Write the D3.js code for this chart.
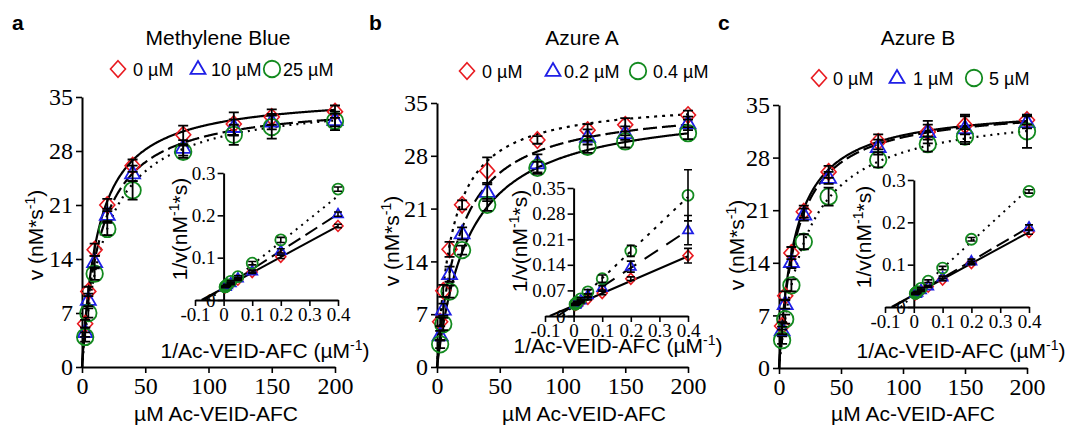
<!DOCTYPE html>
<html>
<head>
<meta charset="utf-8">
<script src="https://cdn.jsdelivr.net/npm/d3@7"></script>
</head>
<body style="margin:0;background:#fff">
<svg id="fig" width="1069" height="428"></svg>
<script>
// substrate concentrations (uM) and their reciprocals for the Lineweaver-Burk insets
var conc = [2.5, 5, 10, 20, 40, 80, 120, 150, 200];
var invConc = [0.4, 0.2, 0.1, 0.05, 0.025, 0.0125, 0.0083, 0.0067, 0.005];

var xTicks = [0, 50, 100, 150, 200];
var yTicks = [0, 7, 14, 21, 28, 35];
var insetXTicks = [-0.1, 0, 0.1, 0.2, 0.3, 0.4];
var insetYTicksA = [0, 0.1, 0.2, 0.3];
var insetYTicksB = [0, 0.07, 0.14, 0.21, 0.28, 0.35];
var insetYTicksC = [0, 0.1, 0.2, 0.3];

var titles = ["Methylene Blue", "Azure A", "Azure B"];
var letters = ["a", "b", "c"];
var legendA = ["0 µM", "10 µM", "25 µM"];
var legendB = ["0 µM", "0.2 µM", "0.4 µM"];
var legendC = ["0 µM", "1 µM", "5 µM"];

// v (nM*s-1)
var vA0 = [5.6, 9.8, 15.2, 21.0, 26.1, 30.1, 31.5, 32.4, 33.1];
var vA1 = [4.5, 8.7, 13.6, 19.7, 25.1, 28.4, 31.1, 31.8, 32.0];
var vA2 = [3.9, 7.0, 12.1, 17.9, 22.9, 27.9, 30.1, 31.1, 31.9];
var eA0 = [0.5, 0.6, 0.8, 0.8, 0.8, 1.2, 1.5, 1.0, 0.8];
var eA1 = [0.6, 0.8, 0.8, 0.8, 1.0, 1.0, 1.0, 1.0, 0.8];
var eA2 = [0.6, 0.6, 0.8, 0.8, 1.2, 0.8, 1.3, 1.5, 1.2];

var vB0 = [6.0, 10.1, 15.6, 21.5, 26.0, 30.1, 31.4, 32.1, 33.4];
var vB1 = [4.2, 7.6, 12.3, 17.7, 23.2, 27.0, 30.5, 31.0, 32.3];
var vB2 = [3.0, 5.7, 10.0, 15.5, 21.5, 26.4, 29.2, 29.9, 31.0];
var eB0 = [0.6, 0.8, 1.0, 0.6, 1.8, 0.5, 0.8, 0.9, 0.6];
var eB1 = [0.6, 0.8, 1.0, 0.8, 1.2, 1.2, 1.0, 0.9, 0.9];
var eB2 = [0.5, 0.8, 0.8, 0.6, 0.8, 0.8, 0.8, 0.8, 0.8];

var vC0 = [5.6, 9.6, 15.3, 20.8, 26.1, 30.1, 31.4, 32.3, 33.0];
var vC1 = [5.0, 8.5, 14.1, 20.4, 25.3, 29.4, 31.4, 31.9, 32.7];
var vC2 = [3.7, 6.5, 11.0, 16.8, 22.8, 27.7, 29.8, 30.8, 31.5];
var eC0 = [0.5, 0.6, 0.8, 0.8, 0.8, 1.0, 1.5, 1.2, 0.6];
var eC1 = [0.5, 0.6, 0.8, 0.8, 0.8, 1.0, 1.0, 1.8, 0.8];
var eC2 = [0.5, 0.6, 0.8, 1.0, 1.2, 1.0, 1.0, 1.0, 2.2];

// 1/v (nM-1*s)
var iA0 = [0.175, 0.102, 0.066, 0.048, 0.038, 0.033, 0.032, 0.031, 0.030];
var iA1 = [0.203, 0.116, 0.068, 0.051, 0.040, 0.035, 0.032, 0.031, 0.031];
var iA2 = [0.262, 0.142, 0.087, 0.055, 0.044, 0.036, 0.033, 0.032, 0.031];
var ieA0 = [0.004, 0.004, 0.003, 0.002, 0.002, 0.001, 0.001, 0.001, 0.001];
var ieA1 = [0.005, 0.005, 0.003, 0.002, 0.002, 0.001, 0.001, 0.001, 0.001];
var ieA2 = [0.005, 0.006, 0.004, 0.003, 0.002, 0.001, 0.001, 0.001, 0.001];

var iB0 = [0.165, 0.102, 0.063, 0.047, 0.038, 0.033, 0.032, 0.031, 0.030];
var iB1 = [0.235, 0.135, 0.077, 0.057, 0.043, 0.037, 0.033, 0.032, 0.031];
var iB2 = [0.330, 0.178, 0.102, 0.066, 0.047, 0.038, 0.034, 0.033, 0.032];
var ieB0 = [0.020, 0.005, 0.005, 0.003, 0.002, 0.001, 0.001, 0.001, 0.001];
var ieB1 = [0.040, 0.015, 0.006, 0.004, 0.002, 0.001, 0.001, 0.001, 0.001];
var ieB2 = [0.070, 0.015, 0.010, 0.006, 0.003, 0.002, 0.001, 0.001, 0.001];

var iC0 = [0.177, 0.104, 0.065, 0.048, 0.038, 0.033, 0.032, 0.031, 0.030];
var iC1 = [0.188, 0.108, 0.070, 0.049, 0.040, 0.034, 0.032, 0.031, 0.031];
var iC2 = [0.273, 0.160, 0.092, 0.061, 0.044, 0.036, 0.034, 0.033, 0.032];
var ieC0 = [0.005, 0.004, 0.003, 0.002, 0.001, 0.001, 0.001, 0.001, 0.001];
var ieC1 = [0.006, 0.005, 0.003, 0.002, 0.001, 0.001, 0.001, 0.001, 0.001];
var ieC2 = [0.004, 0.004, 0.004, 0.003, 0.002, 0.001, 0.001, 0.001, 0.001];

// Michaelis-Menten fit parameters per series
var vmaxA = [35.5, 34.5, 35], kmA = [13, 15, 19];
var vmaxB = [35.5, 35, 35],   kmB = [12, 18, 26];
var vmaxC = [35, 35, 35],     kmC = [13, 14, 22];

var colors = ["#e8191f", "#1f1fe6", "#138a1f"];
var shapes = ["diamond", "triangle", "circle"];
var SANS = "Liberation Sans";
var SERIF = "Liberation Serif";

var panels = [
  { letter: letters[0], title: titles[0], legend: legendA,
    v: [vA0, vA1, vA2], e: [eA0, eA1, eA2], iv: [iA0, iA1, iA2], ie: [ieA0, ieA1, ieA2],
    vmax: vmaxA, km: kmA, iyTicks: insetYTicksA, iyMax: 0.3,
    xr: [82, 335], yr: [367, 97], ixr: [195, 338], iyr: [300, 173],
    dash: ["none", "14,5", "2,5"], idash: ["none", "14,6", "2,5"],
    lx: 12, tx: 218, legY: 76, legM: [118, 198, 272], legT: [133, 211, 283],
    xlx: 216, ylx: 43, ylc: 235, ixlx: 265, ixly: 358, iylx: 187, iylc: 229 },
  { letter: letters[1], title: titles[1], legend: legendB,
    v: [vB0, vB1, vB2], e: [eB0, eB1, eB2], iv: [iB0, iB1, iB2], ie: [ieB0, ieB1, ieB2],
    vmax: vmaxB, km: kmB, iyTicks: insetYTicksB, iyMax: 0.35,
    xr: [437, 688], yr: [367, 103], ixr: [545, 688], iyr: [316, 188],
    dash: ["3,5", "14,5", "none"], idash: ["none", "16,10", "3,6"],
    lx: 369, tx: 582, legY: 78, legM: [467, 553, 638], legT: [482, 564, 653],
    xlx: 584, ylx: 399, ylc: 241, ixlx: 618, ixly: 353, iylx: 527, iylc: 241 },
  { letter: letters[2], title: titles[2], legend: legendC,
    v: [vC0, vC1, vC2], e: [eC0, eC1, eC2], iv: [iC0, iC1, iC2], ie: [ieC0, ieC1, ieC2],
    vmax: vmaxC, km: kmC, iyTicks: insetYTicksC, iyMax: 0.3,
    xr: [779, 1027], yr: [368, 105], ixr: [885, 1029], iyr: [307, 180],
    dash: ["none", "14,5", "2,5"], idash: ["none", "14,6", "2,5"],
    lx: 718, tx: 918, legY: 85, legM: [819, 897, 974], legT: [833, 913, 989],
    xlx: 913, ylx: 744, ylc: 245, ixlx: 961, ixly: 358, iylx: 871, iylc: 237 }
];

var svg = d3.select("#fig");

function label(g, x, y, size, str) {
  return g.append("text").attr("x", x).attr("y", y)
    .attr("font-family", SANS).attr("font-size", size).attr("fill", "#000").text(str);
}

function marker(g, shape, x, y, size, color) {
  if (shape == "circle") {
    g.append("circle").attr("cx", x).attr("cy", y).attr("r", size * 0.55)
      .attr("fill", "none").attr("stroke", color).attr("stroke-width", 1.8);
  } else if (shape == "diamond") {
    var w = size * 0.5, h = size * 0.55;
    g.append("path")
      .attr("d", "M" + x + "," + (y - h) + "L" + (x + w) + "," + y + "L" + x + "," + (y + h) + "L" + (x - w) + "," + y + "Z")
      .attr("fill", "none").attr("stroke", color).attr("stroke-width", 1.6);
  } else {
    var s = size, hh = s * 0.866;
    g.append("path")
      .attr("d", "M" + x + "," + (y - hh * 0.62) + "L" + (x + s / 2) + "," + (y + hh * 0.38) + "L" + (x - s / 2) + "," + (y + hh * 0.38) + "Z")
      .attr("fill", "none").attr("stroke", color).attr("stroke-width", 1.8);
  }
}

function supText(t, parts) {
  t.append("tspan").text(parts[0]);
  t.append("tspan").attr("baseline-shift", "super").attr("font-size", 14).text(parts[1]);
  t.append("tspan").text(parts[2]);
}

function rotLabel(g, x, cy, parts) {
  var t = g.append("text").attr("transform", "translate(" + x + "," + cy + ") rotate(-90)")
    .attr("font-family", SANS).attr("font-size", 21).attr("text-anchor", "middle");
  supText(t, parts);
  return t;
}

function styleAxis(g, fs) {
  g.attr("font-family", SERIF).attr("font-size", fs);
  g.select(".domain").attr("stroke", "#000").attr("stroke-width", 2);
  g.selectAll(".tick line").attr("stroke", "#000").attr("stroke-width", 1.6);
  g.selectAll(".tick text").attr("fill", "#000");
}

function fmt(d) { return String(+d.toFixed(2)); }

panels.forEach(function(p) {
  var g = svg.append("g");

  // headings
  label(g, p.lx, 30, 21, p.letter).attr("font-weight", "bold");
  label(g, p.tx, 45, 21, p.title).attr("text-anchor", "middle");
  for (var k = 0; k < 3; k++) {
    marker(g, shapes[k], p.legM[k], p.legY - 7, 15, colors[k]);
    label(g, p.legT[k], p.legY, 18, p.legend[k]);
  }

  // main Michaelis-Menten plot
  var x = d3.scaleLinear().domain([0, 200]).range(p.xr);
  var y = d3.scaleLinear().domain([0, 35]).range(p.yr);

  var gx = g.append("g").attr("transform", "translate(0," + p.yr[0] + ")")
    .call(d3.axisBottom(x).tickValues(xTicks).tickSize(6).tickSizeOuter(0).tickPadding(4).tickFormat(fmt));
  styleAxis(gx, 24);
  var gy = g.append("g").attr("transform", "translate(" + p.xr[0] + ",0)")
    .call(d3.axisLeft(y).tickValues(yTicks).tickSize(6).tickSizeOuter(0).tickPadding(3).tickFormat(fmt));
  styleAxis(gy, 24);

  label(g, p.xlx, 421, 21, "µM Ac-VEID-AFC").attr("text-anchor", "middle");
  rotLabel(g, p.ylx, p.ylc, ["v (nM*s", "-1", ")"]);

  var sGrid = d3.range(0, 200.5, 0.5);
  var curve = d3.line().x(function(d) { return x(d[0]); }).y(function(d) { return y(d[1]); });
  for (var k = 0; k < 3; k++) {
    var vm = p.vmax[k], km = p.km[k];
    g.append("path")
      .datum(sGrid.map(function(s) { return [s, vm * s / (km + s)]; }))
      .attr("d", curve).attr("fill", "none").attr("stroke", "#000")
      .attr("stroke-width", 2.2).attr("stroke-dasharray", p.dash[k]);
  }
  for (var k = 0; k < 3; k++) {
    conc.forEach(function(c, i) { marker(g, shapes[k], x(c), y(p.v[k][i]), 15, colors[k]); });
  }
  for (var k = 0; k < 3; k++) {
    conc.forEach(function(c, i) {
      var cx = x(c), lo = y(p.v[k][i] - p.e[k][i]), hi = y(p.v[k][i] + p.e[k][i]);
      g.append("path").attr("d", "M" + cx + "," + lo + "V" + hi + "M" + (cx - 5) + "," + lo + "h10M" + (cx - 5) + "," + hi + "h10")
        .attr("stroke", "#000").attr("stroke-width", 1.8).attr("fill", "none");
    });
  }

  // Lineweaver-Burk inset
  var ix = d3.scaleLinear().domain([-0.1, 0.4]).range(p.ixr);
  var iy = d3.scaleLinear().domain([0, p.iyMax]).range(p.iyr);
  var gix = g.append("g").attr("transform", "translate(0," + p.iyr[0] + ")")
    .call(d3.axisBottom(ix).tickValues(insetXTicks).tickSize(6).tickSizeOuter(0).tickPadding(2).tickFormat(fmt));
  styleAxis(gix, 19);
  var giy = g.append("g").attr("transform", "translate(" + ix(0) + ",0)")
    .call(d3.axisLeft(iy).tickValues(p.iyTicks).tickSize(6).tickSizeOuter(0).tickPadding(2).tickFormat(fmt));
  styleAxis(giy, 19);

  var ixl = label(g, p.ixlx, p.ixly, 21, null).attr("text-anchor", "middle");
  supText(ixl, ["1/Ac-VEID-AFC (µM", "-1", ")"]);
  rotLabel(g, p.iylx, p.iylc, ["1/v(nM", "-1", "*s)"]);

  for (var k = 0; k < 3; k++) {
    var slope = p.km[k] / p.vmax[k], icpt = 1 / p.vmax[k];
    var xs = -1 / p.km[k];
    g.append("line")
      .attr("x1", ix(xs)).attr("y1", iy(0)).attr("x2", ix(0.4)).attr("y2", iy(slope * 0.4 + icpt))
      .attr("stroke", "#000").attr("stroke-width", 2).attr("stroke-dasharray", p.idash[k]);
  }
  for (var k = 0; k < 3; k++) {
    invConc.forEach(function(c, i) { marker(g, shapes[k], ix(c), iy(p.iv[k][i]), 10, colors[k]); });
  }
  for (var k = 0; k < 3; k++) {
    invConc.forEach(function(c, i) {
      var cx = ix(c), lo = iy(p.iv[k][i] - p.ie[k][i]), hi = iy(p.iv[k][i] + p.ie[k][i]);
      g.append("path").attr("d", "M" + cx + "," + lo + "V" + hi + "M" + (cx - 4) + "," + lo + "h8M" + (cx - 4) + "," + hi + "h8")
        .attr("stroke", "#000").attr("stroke-width", 1.6).attr("fill", "none");
    });
  }
});
</script>
</body>
</html>
